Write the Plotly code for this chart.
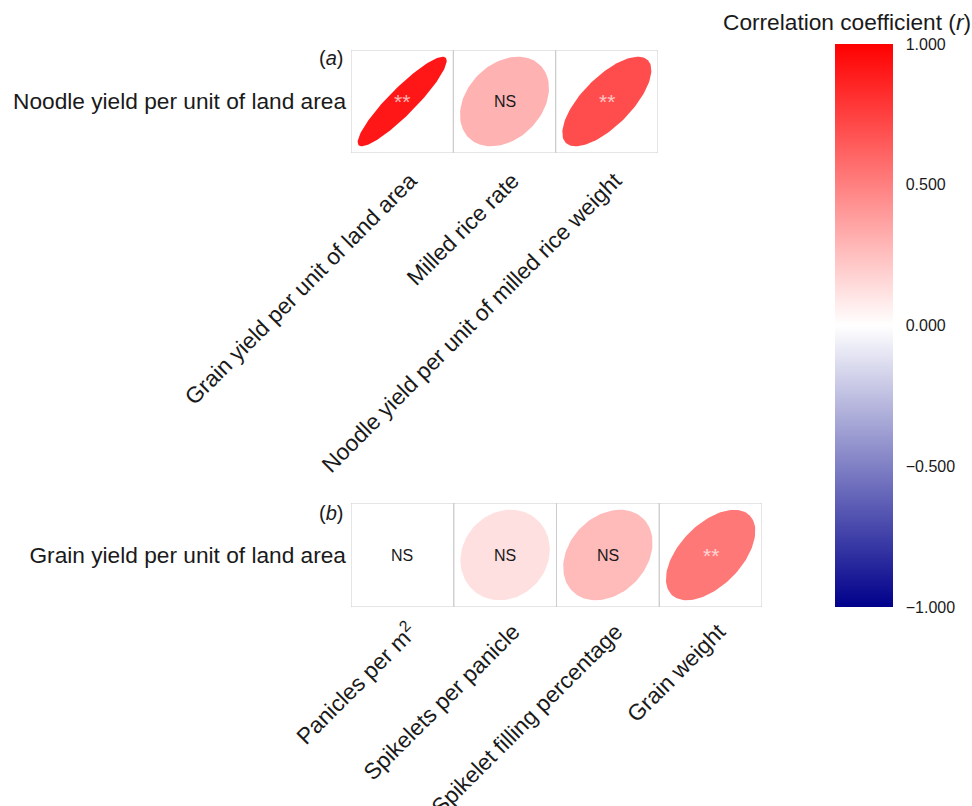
import numpy as np
import plotly.graph_objects as go

# ---- data ----
rows_a = ["Noodle yield per unit of land area"]
cols_a = ["Grain yield per unit of land area", "Milled rice rate",
          "Noodle yield per unit of milled rice weight"]
r_a = [0.91, 0.30, 0.70]
sig_a = ["**", "NS", "**"]

rows_b = ["Grain yield per unit of land area"]
cols_b = ["Panicles per m<sup>2</sup>", "Spikelets per panicle",
          "Spikelet filling percentage", "Grain weight"]
r_b = [0.0, 0.12, 0.27, 0.53]
sig_b = ["NS", "NS", "NS", "**"]

cbar_ticks = [-1.0, -0.5, 0.0, 0.5, 1.0]

FONT = "Liberation Sans, Arial, sans-serif"
TXT = "#1a1a1a"
W, H = 972, 806
BLUE = (0, 0, 139)
RED = (255, 0, 0)
FS = 22.7


def rcolor(r):
    if r >= 0:
        c = tuple(255 + (RED[i] - 255) * r for i in range(3))
    else:
        c = tuple(255 + (BLUE[i] - 255) * (-r) for i in range(3))
    return "rgb(%d,%d,%d)" % tuple(round(v) for v in c)


def ellipse(r, cx, cy, s=0.87, n=120):
    k = np.linspace(0, 2 * np.pi, n)
    d = np.arccos(r)
    x = cx + s * np.cos(k + d / 2) / 2
    y = cy + s * np.cos(k - d / 2) / 2
    return x, y


fig = go.Figure()
shapes = []
annotations = []


def panel(cols, rvals, sigs, xref, yref, showscale):
    for i, (r, s) in enumerate(zip(rvals, sigs)):
        cx, cy = i + 1, 1
        ex, ey = ellipse(r, cx, cy)
        fig.add_trace(go.Scatter(x=ex, y=ey, fill="toself", mode="lines",
                                 line=dict(width=0), fillcolor=rcolor(r),
                                 hoverinfo="skip", showlegend=False,
                                 xaxis=xref, yaxis=yref))
        shapes.append(dict(type="rect", xref=xref, yref=yref,
                           x0=cx - 0.5, x1=cx + 0.5, y0=0.5, y1=1.5,
                           line=dict(color="#cccccc", width=1), layer="above"))
        if s == "**":
            annotations.append(dict(x=cx, y=cy, xref=xref, yref=yref, text="**",
                                    showarrow=False,
                                    font=dict(family=FONT, size=21,
                                              color="rgba(255,255,255,0.7)")))
        else:
            annotations.append(dict(x=cx, y=cy, xref=xref, yref=yref, text="NS",
                                    showarrow=False,
                                    font=dict(family=FONT, size=16, color=TXT)))
    marker = dict(size=1, opacity=0, color=rvals, cmin=-1, cmax=1,
                  colorscale=[[0, "rgb(0,0,139)"], [0.5, "#ffffff"], [1, "rgb(255,0,0)"]],
                  showscale=showscale)
    if showscale:
        marker["colorbar"] = dict(
            x=835 / W, xanchor="left", xpad=0, ypad=0,
            y=1 - 325.5 / H, yanchor="middle",
            thickness=58, thicknessmode="pixels",
            len=563, lenmode="pixels",
            outlinewidth=0,
            tickvals=cbar_ticks, tickformat=".3f",
            ticks="outside", ticklen=10, tickcolor="rgba(0,0,0,0)",
            tickfont=dict(family=FONT, size=16, color=TXT),
        )
    fig.add_trace(go.Scatter(x=list(range(1, len(rvals) + 1)), y=[1] * len(rvals),
                             mode="markers", hoverinfo="skip", showlegend=False,
                             marker=marker, xaxis=xref, yaxis=yref))


panel(cols_a, r_a, sig_a, "x", "y", True)
panel(cols_b, r_b, sig_b, "x2", "y2", False)

axis_common = dict(showgrid=False, zeroline=False, showline=False, automargin=False,
                   ticks="", tickfont=dict(family=FONT, size=FS, color=TXT),
                   fixedrange=True)

fig.update_layout(
    width=W, height=H,
    margin=dict(l=0, r=0, t=0, b=0),
    paper_bgcolor="white", plot_bgcolor="white",
    xaxis=dict(domain=[351 / W, 658 / W], range=[0.5, 3.5], anchor="y",
               tickmode="array", tickvals=[1, 2, 3], ticktext=cols_a,
               tickangle=-45, ticklabelstandoff=9, ticklabelshift=8, **axis_common),
    yaxis=dict(domain=[1 - 153 / H, 1 - 50 / H], range=[0.5, 1.5], anchor="x",
               tickmode="array", tickvals=[1], ticktext=rows_a,
               ticklabelstandoff=4, **axis_common),
    xaxis2=dict(domain=[351 / W, 762 / W], range=[0.5, 4.5], anchor="y2",
                tickmode="array", tickvals=[1, 2, 3, 4], ticktext=cols_b,
                tickangle=-45, ticklabelstandoff=6, ticklabelshift=8, **axis_common),
    yaxis2=dict(domain=[1 - 607 / H, 1 - 503 / H], range=[0.5, 1.5], anchor="x2",
                tickmode="array", tickvals=[1], ticktext=rows_b,
                ticklabelstandoff=4, **axis_common),
    shapes=shapes,
)

annotations += [
    dict(x=345 / W, y=1 - 58 / H, xref="paper", yref="paper", text="(<i>a</i>)",
         xanchor="right", yanchor="middle", showarrow=False,
         font=dict(family=FONT, size=20, color=TXT)),
    dict(x=345 / W, y=1 - 513 / H, xref="paper", yref="paper", text="(<i>b</i>)",
         xanchor="right", yanchor="middle", showarrow=False,
         font=dict(family=FONT, size=20, color=TXT)),
    dict(x=846.5 / W, y=1 - 22 / H, xref="paper", yref="paper",
         text="Correlation coefficient (<i>r</i>)",
         xanchor="center", yanchor="middle", showarrow=False,
         font=dict(family=FONT, size=FS, color=TXT)),
]
fig.update_layout(annotations=annotations)

fig.write_html("out.html")
